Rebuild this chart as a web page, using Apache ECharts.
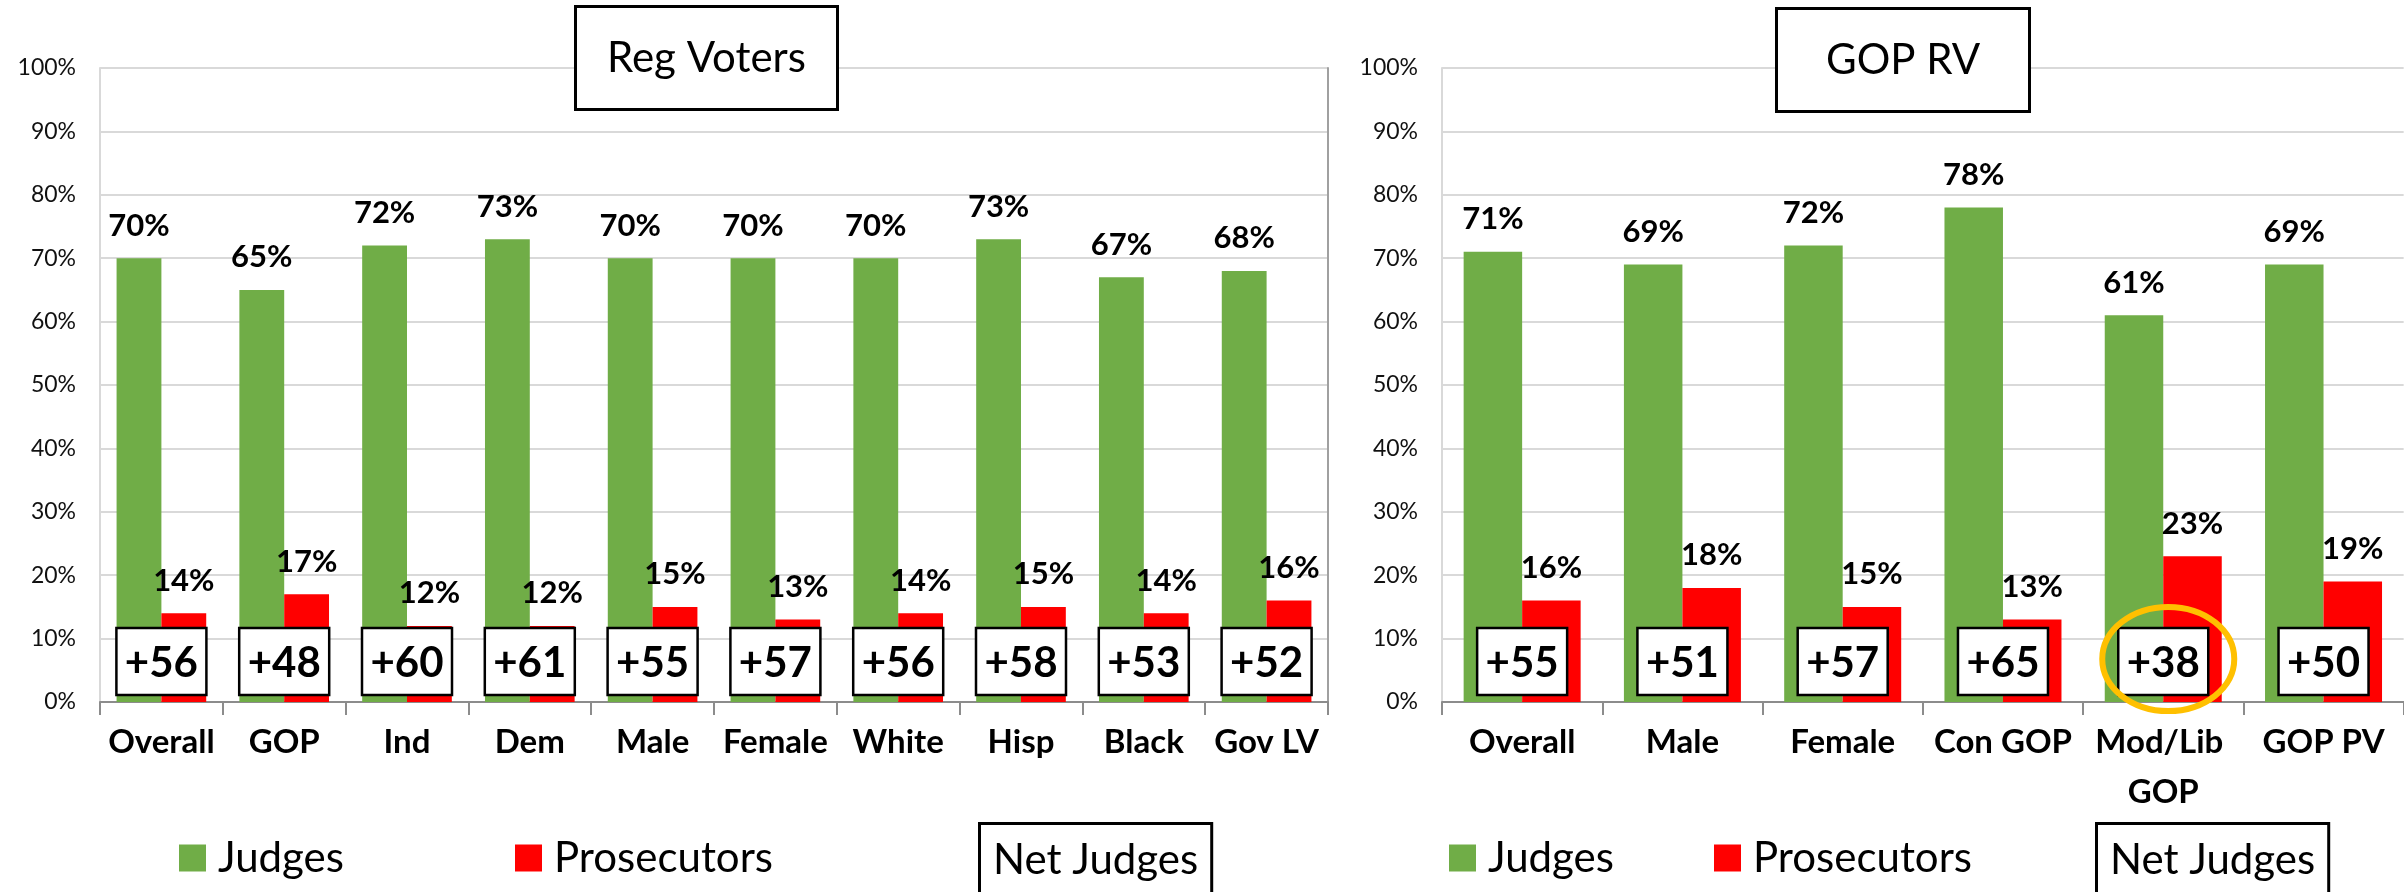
<!DOCTYPE html>
<html>
<head>
<meta charset="utf-8">
<script src="https://cdn.jsdelivr.net/npm/echarts@6/dist/echarts.min.js"></script>
<style>
html,body{margin:0;padding:0;background:#fff;}
#chart{width:2404px;height:892px;}
</style>
</head>
<body>
<div id="chart"></div>
<script>
// ---- data ----
const titleLeft = 'Reg Voters';
const titleRight = 'GOP RV';
const catsLeft = ['Overall', 'GOP', 'Ind', 'Dem', 'Male', 'Female', 'White', 'Hisp', 'Black', 'Gov LV'];
const judgesLeft = [70, 65, 72, 73, 70, 70, 70, 73, 67, 68];
const prosLeft = [14, 17, 12, 12, 15, 13, 14, 15, 14, 16];
const netLeft = [56, 48, 60, 61, 55, 57, 56, 58, 53, 52];
const catsRight = ['Overall', 'Male', 'Female', 'Con GOP', 'Mod/Lib GOP', 'GOP PV'];
const judgesRight = [71, 69, 72, 78, 61, 69];
const prosRight = [16, 18, 15, 13, 23, 19];
const netRight = [55, 51, 57, 65, 38, 50];
const circledCategory = 'Mod/Lib GOP';
const yTicks = [0, 10, 20, 30, 40, 50, 60, 70, 80, 90, 100];

// ---- styles ----
const FONT = 'Lato';
const GREEN = '#70AD47';
const RED = '#FF0000';

const chart = echarts.init(document.getElementById('chart'), null, {renderer: 'canvas'});

function netRenderer(cats) {
  return function (params, api) {
    const idx = api.value(0);
    const p = api.coord([idx, 0]);
    const cx = p[0], y0 = p[1];
    const children = [
      {type: 'rect', shape: {x: cx - 45, y: y0 - 74, width: 90, height: 67},
       style: {fill: '#fff', stroke: '#000', lineWidth: 2.5}},
      {type: 'text', style: {text: '+' + api.value(1), x: cx, y: y0 - 39,
        align: 'center', verticalAlign: 'middle',
        fontSize: 42, fontWeight: 'bold', fontFamily: FONT, fill: '#000'}}
    ];
    if (cats[idx] === circledCategory) {
      children.push({type: 'ellipse', shape: {cx: cx + 5, cy: y0 - 43, rx: 66, ry: 52},
        style: {fill: 'none', stroke: '#FFC000', lineWidth: 6}});
    }
    return {type: 'group', children: children};
  };
}

const valueLabel = {
  show: true, position: 'top', distance: 17,
  formatter: '{c}%', fontSize: 31, fontWeight: 'bold', fontFamily: FONT, color: '#000'
};

function xAxisCfg(gridIndex, cats, extra) {
  return Object.assign({
    type: 'category', gridIndex: gridIndex, data: cats,
    axisLine: {lineStyle: {color: '#8c8c8c', width: 2}},
    axisTick: {show: true, length: 13, lineStyle: {color: '#8c8c8c', width: 2}},
    axisLabel: {interval: 0, margin: 15, fontSize: 33, fontWeight: 'bold', fontFamily: FONT,
      color: '#000', lineHeight: 50}
  }, extra || {});
}

function yAxisCfg(gridIndex) {
  return {
    type: 'value', gridIndex: gridIndex, min: yTicks[0], max: yTicks[yTicks.length - 1], interval: 10,
    axisLine: {show: true, lineStyle: {color: '#d9d9d9', width: 2}},
    axisTick: {show: false},
    splitLine: {lineStyle: {color: '#d9d9d9', width: 2}},
    axisLabel: {formatter: '{value}%', fontSize: 23, fontFamily: FONT, color: '#111', margin: 24}
  };
}

function legendItem(name, left, extra) {
  return Object.assign({
    left: left, top: 837, padding: 0, itemWidth: 27, itemHeight: 27, selectedMode: false,
    data: [{name: name, icon: 'rect'}],
    textStyle: {fontSize: 42, fontFamily: FONT, color: '#000', lineHeight: 42, padding: [0, 0, 0, 7]}
  }, extra || {});
}

function netLegend(left) {
  return {
    left: left, top: 822, padding: 0, itemWidth: 0, itemHeight: 0, selectedMode: false,
    data: [{name: 'Net Judges', icon: 'none'}],
    formatter: function (n) { return '{box|' + n + '}'; },
    textStyle: {
      rich: {box: {fontSize: 42, fontFamily: FONT, color: '#000', lineHeight: 42,
        borderColor: '#000', borderWidth: 3, backgroundColor: '#fff', padding: [14, 12, 40, 12]}}
    }
  };
}

function titleCfg(text, left, top, padH) {
  return {
    text: text, left: left, top: top, padding: [31, padH],
    borderColor: '#000', borderWidth: 3, backgroundColor: '#fff',
    textStyle: {fontSize: 42, fontWeight: 'normal', fontFamily: FONT, color: '#000', lineHeight: 42}
  };
}

const option = {
  animation: false,
  backgroundColor: '#fff',
  title: [
    titleCfg(titleLeft, 575, 6, 32),
    titleCfg(titleRight, 1776, 8, 50)
  ],
  legend: [
    legendItem('Judges', 179),
    legendItem('Prosecutors', 515),
    netLegend(976),
    legendItem('Judges', 1449),
    legendItem('Prosecutors', 1714),
    netLegend(2093)
  ],
  grid: [
    {left: 100, right: 2404 - 1328, top: 68, bottom: 892 - 702},
    {left: 1442, right: 0, top: 68, bottom: 892 - 702}
  ],
  xAxis: [
    xAxisCfg(0, catsLeft),
    xAxisCfg(1, catsRight, {}),
  ],
  yAxis: [
    yAxisCfg(0),
    {type: 'value', gridIndex: 0, position: 'right', min: 0, max: 100,
     axisLine: {show: true, lineStyle: {color: '#a0a0a0', width: 2}},
     axisTick: {show: false}, axisLabel: {show: false}, splitLine: {show: false}},
    yAxisCfg(1)
  ],
  series: [
    {name: 'Judges', type: 'bar', xAxisIndex: 0, yAxisIndex: 0, data: judgesLeft,
     barGap: 0, barCategoryGap: '27%', itemStyle: {color: GREEN}, label: valueLabel},
    {name: 'Prosecutors', type: 'bar', xAxisIndex: 0, yAxisIndex: 0, data: prosLeft,
     barGap: 0, barCategoryGap: '27%', itemStyle: {color: RED}, label: valueLabel},
    {name: 'Net Judges', type: 'custom', xAxisIndex: 0, yAxisIndex: 0, z: 5,
     itemStyle: {color: '#fff'},
     data: netLeft.map(function (v, i) { return [i, v]; }),
     encode: {x: 0, y: 1}, renderItem: netRenderer(catsLeft)},
    {name: 'Judges', type: 'bar', xAxisIndex: 1, yAxisIndex: 2, data: judgesRight,
     barGap: 0, barCategoryGap: '27%', itemStyle: {color: GREEN}, label: valueLabel},
    {name: 'Prosecutors', type: 'bar', xAxisIndex: 1, yAxisIndex: 2, data: prosRight,
     barGap: 0, barCategoryGap: '27%', itemStyle: {color: RED}, label: valueLabel},
    {name: 'Net Judges', type: 'custom', xAxisIndex: 1, yAxisIndex: 2, z: 5,
     itemStyle: {color: '#fff'},
     data: netRight.map(function (v, i) { return [i, v]; }),
     encode: {x: 0, y: 1}, renderItem: netRenderer(catsRight)}
  ]
};
option.xAxis[1].axisLabel = Object.assign({}, option.xAxis[1].axisLabel, {width: 155, overflow: 'break'});
chart.setOption(option);
</script>
</body>
</html>
